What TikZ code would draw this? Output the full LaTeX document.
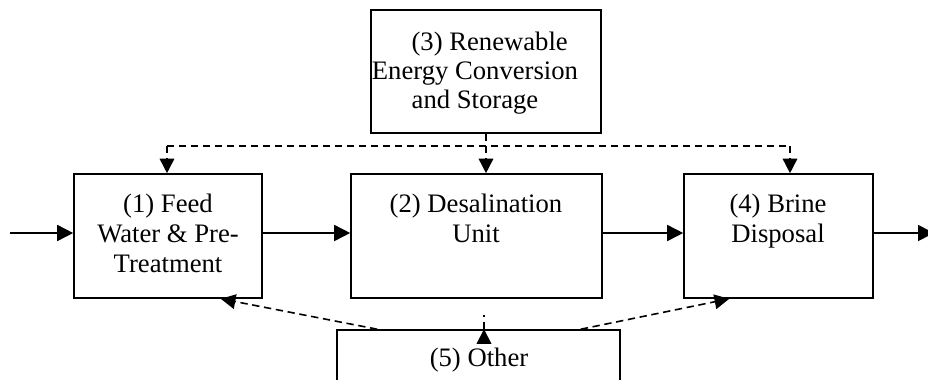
\documentclass[tikz,border=0pt]{standalone}
\usepackage{fontspec}
\setmainfont{Liberation Serif}
\usetikzlibrary{arrows.meta,calc}
\begin{document}
\begin{tikzpicture}[x=0.75pt,y=-0.75pt,
  box/.style={draw,line width=1.2pt,inner sep=0pt},
  lbl/.style={align=center,inner sep=0pt,anchor=base,font=\fontsize{20pt}{22.5pt}\selectfont},
  sarr/.style={line width=1.2pt,-{Triangle[length=12pt,width=12pt]}},
  darr/.style={line width=1.2pt,dash pattern=on 5.5pt off 3.5pt,-{Triangle[length=11pt,width=11pt]}},
  dline/.style={line width=1.2pt,dash pattern=on 5.5pt off 3.5pt}]
\clip (0,0) rectangle (928,379);
% boxes
\node[box,minimum width=230*0.75pt,minimum height=123*0.75pt] (b3) at (486,71.5) {};
\node[box,minimum width=188*0.75pt,minimum height=124*0.75pt] (b1) at (168,236) {};
\node[box,minimum width=251*0.75pt,minimum height=124*0.75pt] (b2) at (476.5,236) {};
\node[box,minimum width=189*0.75pt,minimum height=124*0.75pt] (b4) at (778.5,236) {};
\node[box,minimum width=283*0.75pt,minimum height=90*0.75pt] (b5) at (478.5,375) {};
% labels (anchor = baseline of last line)
\node[lbl,font=\fontsize{20pt}{21.75pt}\selectfont] (l3) at (475,108) {\hspace*{22pt}(3) Renewable\\Energy Conversion\\and Storage};
\node[lbl] (l1) at (168,272) {(1) Feed\\Water \& Pre-\\Treatment};
\node[lbl] (l2) at (476,242) {(2) Desalination\\Unit};
\node[lbl] (l4) at (778,242) {(4) Brine\\Disposal};
\node[lbl] (l5) at (479,366) {(5) Other};
% main flow
\coordinate (in) at (10,233);
\coordinate (out) at (934,233);
\draw[sarr] (in) -- (in -| b1.west);
\draw[sarr] (b1.east |- in) -- (b2.west |- in);
\draw[sarr] (b2.east |- in) -- (b4.west |- in);
\draw[sarr] (b4.east |- in) -- (out);
% energy distribution
\coordinate (c1) at (167,146);
\coordinate (c4) at (790,146);
\draw[dline] (c1) -- (c4);
\draw[darr] (b3.south) -- (b3.south |- b2.north);
\draw[darr] (c1) -- (c1 |- b1.north);
\draw[darr] (c4) -- (c4 |- b4.north);
% other
\draw[darr] ($(b5.north west)+(41,0)$) -- ($(b1.south east)+(-42,0)$);
\draw[darr] ($(b5.north)+(5.5,0)$) -- ($(b5.north)+(5.5,0)$ |- b2.south);
\draw[darr] ($(b5.north east)+(-40,0)$) -- ($(b4.south west)+(46,0)$);
\end{tikzpicture}
\end{document}
